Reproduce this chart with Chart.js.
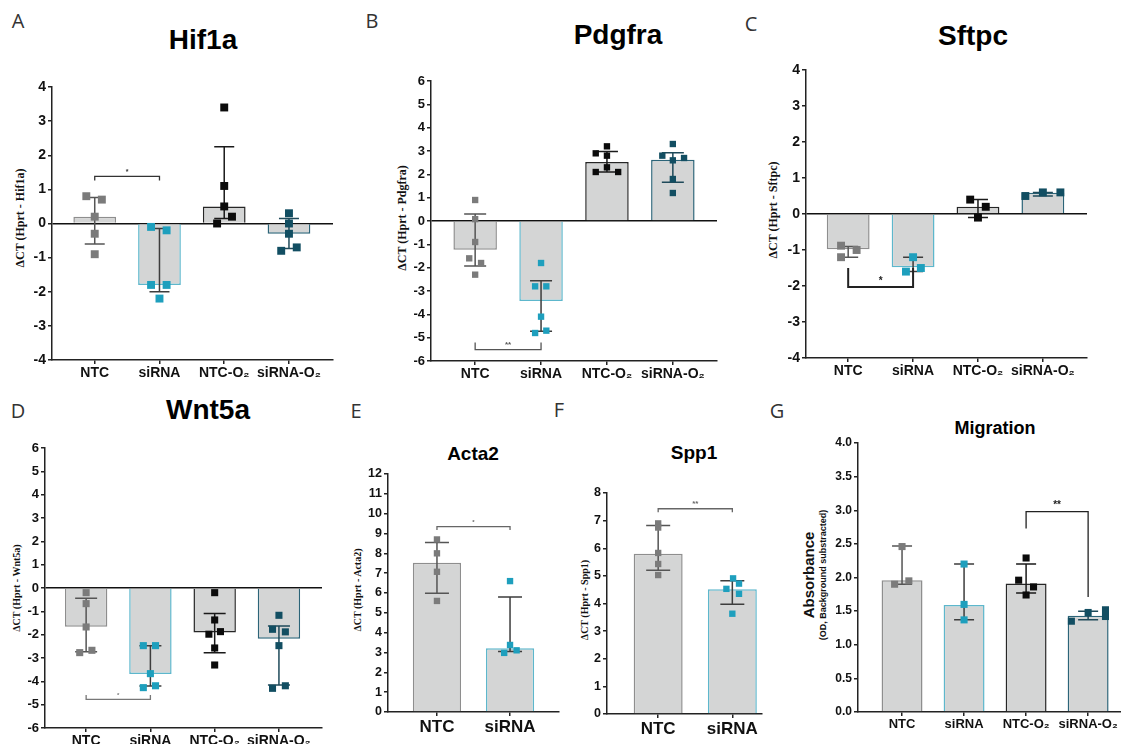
<!DOCTYPE html>
<html>
<head>
<meta charset="utf-8">
<script src="https://cdn.jsdelivr.net/npm/chart.js@4.4.1/dist/chart.umd.min.js"></script>
<style>
  body { margin: 0; width: 1121px; height: 744px; overflow: hidden; position: relative; background: #fff; font-family: "Liberation Sans", Arial, sans-serif; }
  .letter { position: absolute; font: 20px "Open Sans", sans-serif; color: #333; transform: translate(-50%, -50%); }
  .title { position: absolute; font-weight: bold; color: #000; transform: translate(-50%, -50%); white-space: nowrap; }
  .ylab { position: absolute; white-space: nowrap; color: #111; transform: translate(-50%, -50%) rotate(-90deg); }
  .serif { font-family: "Liberation Serif", "Times New Roman", serif; font-weight: bold; }
  canvas { position: absolute; }
</style>
</head>
<body>
<div class="letter" style="left:18px;top:20px">A</div>
<div class="letter" style="left:372px;top:20px">B</div>
<div class="letter" style="left:751px;top:23px">C</div>
<div class="letter" style="left:18px;top:410px">D</div>
<div class="letter" style="left:356px;top:410px">E</div>
<div class="letter" style="left:559px;top:409px">F</div>
<div class="letter" style="left:777px;top:410px">G</div>

<div class="title" style="left:203px;top:40px;font-size:28px">Hif1a</div>
<div class="title" style="left:618px;top:35px;font-size:28px">Pdgfra</div>
<div class="title" style="left:973px;top:36px;font-size:28px">Sftpc</div>
<div class="title" style="left:208px;top:410px;font-size:28px">Wnt5a</div>
<div class="title" style="left:473px;top:454px;font-size:19px">Acta2</div>
<div class="title" style="left:694px;top:453px;font-size:19px">Spp1</div>
<div class="title" style="left:995px;top:428px;font-size:18px">Migration</div>

<div class="ylab serif" style="left:20px;top:218px;font-size:12px">ΔCT (Hprt - Hif1a)</div>
<div class="ylab serif" style="left:402px;top:218px;font-size:12px">ΔCT (Hprt - Pdgfra)</div>
<div class="ylab serif" style="left:773px;top:210px;font-size:12px">ΔCT (Hprt - Sftpc)</div>
<div class="ylab serif" style="left:16px;top:588px;font-size:10px">ΔCT (Hprt - Wnt5a)</div>
<div class="ylab serif" style="left:357px;top:590px;font-size:10px">ΔCT (Hprt - Acta2)</div>
<div class="ylab serif" style="left:584px;top:600px;font-size:10px">ΔCT (Hprt - Spp1)</div>
<div class="ylab" style="left:808px;top:575px;font-size:15px;font-weight:bold">Absorbance</div>
<div class="ylab" style="left:823px;top:575px;font-size:9px;font-weight:bold">(OD, Background substracted)</div>

<script>
const groups4 = ['NTC', 'siRNA', 'NTC-O₂', 'siRNA-O₂'];
const groups2 = ['NTC', 'siRNA'];

// Hif1a
const hif1aBars = [0.2, -1.8, 0.5, -0.3];
const hif1aLow = [-0.6, -2.0, 0.15, -0.73];
const hif1aHigh = [0.76, -0.15, 2.25, 0.15];
const hif1aPts = [[0.8, 0.7, 0.2, -0.3, -0.9], [-0.1, -0.2, -1.8, -1.8, -2.2], [3.4, 1.1, 0.5, 0.2, 0.0], [0.3, 0.0, -0.3, -0.8, -0.7]];
const hif1aJitter = [[-0.13, 0.11, 0, 0, 0], [-0.13, 0.11, -0.13, 0.11, 0], [0, 0, 0, 0.12, -0.11], [0, 0, 0, -0.12, 0.12]];
const hif1aSig = [0, 1, 1.38, 1.26, 1.26, '*'];

// Pdgfra
const pdgfraBars = [-1.23, -3.43, 2.53, 2.63];
const pdgfraLow = [-1.93, -4.73, 2.1, 1.66];
const pdgfraHigh = [0.3, -2.56, 2.98, 2.93];
const pdgfraPts = [[0.9, 0.08, -0.9, -1.6, -1.8, -2.3], [-1.8, -2.8, -2.8, -4.1, -4.8, -4.7], [3.2, 2.9, 2.8, 2.3, 2.1, 2.1], [3.3, 2.8, 2.7, 2.6, 1.8, 1.2]];
const pdgfraJitter = [[0, 0, 0, -0.09, 0.09, 0], [0, -0.09, 0.08, 0, -0.09, 0.08], [0, -0.17, 0, 0, -0.17, 0.17], [0, -0.16, 0.17, 0, 0, 0]];
const pdgfraSig = [0, 1, -5.51, -5.21, -5.21, '**'];

// Sftpc
const sftpcBars = [-0.98, -1.48, 0.2, 0.59];
const sftpcLow = [-1.2, -1.6, -0.1, 0.5];
const sftpcHigh = [-0.9, -1.2, 0.4, 0.6];
const sftpcPts = [[-0.88, -1.0, -1.2], [-1.2, -1.5, -1.6], [0.4, 0.2, -0.1], [0.5, 0.6, 0.6]];
const sftpcJitter = [[-0.11, 0.13, -0.11], [0, 0.12, -0.11], [-0.12, 0.12, 0], [-0.27, 0, 0.27]];
const sftpcSig = [0, 1, -2.03, -1.5, -1.5, '*'];

// Wnt5a
const wnt5aBars = [-1.66, -3.69, -1.91, -2.17];
const wnt5aLow = [-2.73, -4.2, -2.77, -4.16];
const wnt5aHigh = [-0.44, -2.47, -1.09, -1.63];
const wnt5aPts = [[-0.2, -0.67, -1.67, -2.77, -2.67], [-2.47, -2.47, -3.67, -4.27, -4.19], [-0.2, -1.37, -1.98, -1.87, -2.57, -3.3], [-1.17, -1.77, -1.88, -2.47, -4.3, -4.19]];
const wnt5aJitter = [[0, 0, 0, -0.1, 0.09], [-0.11, 0.08, 0, -0.11, 0.08], [0, 0, -0.09, 0.09, 0, 0], [0, -0.1, 0.1, 0, -0.1, 0.1]];
const wnt5aSig = [0, 1, -4.77, -4.59, -4.59, '*'];

// Acta2
const acta2Bars = [7.53, 3.21];
const acta2Low = [5.99, 3.05];
const acta2High = [8.54, 5.8];
const acta2Pts = [[8.7, 8.0, 7.07, 5.6], [6.6, 3.38, 3.11, 2.98]];
const acta2Jitter = [[0, 0, 0, 0], [0, 0, 0.09, -0.08]];
const acta2Sig = [0, 1, 9.35, 9.18, 9.18, '*'];

// Spp1
const spp1Bars = [5.8, 4.52];
const spp1Low = [5.2, 3.97];
const spp1High = [6.82, 4.82];
const spp1Pts = [[6.9, 6.75, 5.83, 5.43, 5.03], [4.91, 4.53, 4.72, 4.35, 3.63]];
const spp1Jitter = [[0, 0, 0, 0, 0], [0.01, -0.08, 0.09, 0.09, 0]];
const spp1Sig = [0, 1, 7.43, 7.3, 7.3, '**'];

// Migration
const migBars = [1.96, 1.59, 1.91, 1.43];
const migLow = [1.9, 1.37, 1.77, 1.37];
const migHigh = [2.47, 2.2, 2.2, 1.5];
const migPts = [[2.46, 1.9, 1.95], [2.2, 1.6, 1.37], [2.29, 1.96, 1.86, 1.74], [1.48, 1.35, 1.52, 1.42]];
const migJitter = [[0, -0.12, 0.11], [0, 0, 0], [0, -0.12, 0.12, 0], [0, -0.27, 0.28, 0.28]];
const migSig = [2, 3, 2.98, 2.73, 1.71, '**'];

// group styles
const dotColors = ['#7b7b7b', '#1e9fbd', '#0b0b0b', '#124e62'];
const edgeColors = ['#8e8e8e', '#5db7cc', '#262626', '#2c6478'];
const errColors = ['#555555', '#3d3d3d', '#1a1a1a', '#1f4a5a'];
const barFill = '#d4d5d5';

const panels = [
  { labels: groups4, bars: hif1aBars, low: hif1aLow, high: hif1aHigh, pts: hif1aPts, jit: hif1aJitter, sig: hif1aSig,
    y: [-4, 4, 1], x: [-0.66, 3.68], area: [52, 87, 333, 360], zero: true,
    yFont: 14, xFont: 14, r: 5.6, cap: 10, sigFont: 7, sigColor: '#333' },
  { labels: groups4, bars: pdgfraBars, low: pdgfraLow, high: pdgfraHigh, pts: pdgfraPts, jit: pdgfraJitter, sig: pdgfraSig,
    y: [-6, 6, 1], x: [-0.67, 3.67], area: [431, 81, 717, 361], zero: true,
    yFont: 13, xFont: 14, r: 4.5, cap: 11, sigFont: 8, sigColor: '#555' },
  { labels: groups4, bars: sftpcBars, low: sftpcLow, high: sftpcHigh, pts: sftpcPts, jit: sftpcJitter, sig: sftpcSig,
    y: [-4, 4, 1], x: [-0.65, 3.68], area: [806, 70, 1087, 358], zero: true,
    yFont: 14, xFont: 14, r: 5.6, cap: 10, sigFont: 10, sigColor: '#222', sigWidth: 2 },
  { labels: groups4, bars: wnt5aBars, low: wnt5aLow, high: wnt5aHigh, pts: wnt5aPts, jit: wnt5aJitter, sig: wnt5aSig,
    y: [-6, 6, 1], x: [-0.64, 3.67], area: [45, 448, 322, 728], zero: true,
    yFont: 13, xFont: 14, r: 5, cap: 11, sigFont: 6, sigColor: '#777' },
  { labels: groups2, bars: acta2Bars, low: acta2Low, high: acta2High, pts: acta2Pts, jit: acta2Jitter, sig: acta2Sig,
    y: [0, 12, 1], x: [-0.67, 1.67], area: [388, 474, 559, 712], zero: false,
    yFont: 12.5, xFont: 17, r: 4.5, cap: 12, sigFont: 6, sigColor: '#666' },
  { labels: groups2, bars: spp1Bars, low: spp1Low, high: spp1High, pts: spp1Pts, jit: spp1Jitter, sig: spp1Sig,
    y: [0, 8, 1], x: [-0.69, 1.4], area: [607, 493, 762, 714], zero: false,
    yFont: 12.5, xFont: 17, r: 4.5, cap: 12, sigFont: 8, sigColor: '#666' },
  { labels: groups4, bars: migBars, low: migLow, high: migHigh, pts: migPts, jit: migJitter, sig: migSig,
    y: [0, 4, 0.5], x: [-0.71, 3.53], area: [858, 443, 1121, 712], zero: false,
    yFont: 12, xFont: 13, r: 5, cap: 10, sigFont: 10, sigColor: '#222', fixed: 1 }
];

function makePanel(p) {
  const [L, T, R, B] = p.area;
  const yw = 40, xh = 40, padTop = 14, padRight = 8;
  const left = L - yw, top = T - padTop;
  const w = R + padRight - left, h = B + xh - top;
  const canvas = document.createElement('canvas');
  canvas.width = w;
  canvas.height = h;
  canvas.style.left = left + 'px';
  canvas.style.top = top + 'px';
  canvas.style.width = w + 'px';
  canvas.style.height = h + 'px';
  document.body.appendChild(canvas);

  const datasets = [{
    type: 'bar',
    data: p.bars.map((v, i) => ({ x: i, y: v })),
    backgroundColor: barFill,
    borderColor: edgeColors.slice(0, p.labels.length),
    borderWidth: 1.5,
    barPercentage: 0.66,
    categoryPercentage: 1,
    order: 2
  }];
  p.pts.forEach((vals, g) => {
    datasets.push({
      type: 'scatter',
      data: vals.map((v, k) => ({ x: g + p.jit[g][k], y: v })),
      backgroundColor: dotColors[g],
      borderWidth: 0,
      pointStyle: 'rect',
      pointRadius: p.r,
      order: 1
    });
  });

  // error bars sit between the bars and the dots
  const errorBars = {
    id: 'errorBars',
    afterDatasetDraw(chart, args) {
      if (args.index !== 0) return;
      const { ctx, scales: { x, y } } = chart;
      ctx.save();
      ctx.lineWidth = 1.5;
      p.bars.forEach((_, i) => {
        const cx = x.getPixelForValue(i);
        const yl = y.getPixelForValue(p.low[i]);
        const yh = y.getPixelForValue(p.high[i]);
        ctx.strokeStyle = errColors[i];
        ctx.beginPath();
        ctx.moveTo(cx, yl); ctx.lineTo(cx, yh);
        ctx.moveTo(cx - p.cap, yl); ctx.lineTo(cx + p.cap, yl);
        ctx.moveTo(cx - p.cap, yh); ctx.lineTo(cx + p.cap, yh);
        ctx.stroke();
      });
      ctx.restore();
    }
  };

  const bracket = {
    id: 'bracket',
    afterDatasetsDraw(chart) {
      const { ctx, scales: { x, y } } = chart;
      const [a, b, level, armA, armB, label] = p.sig;
      const x1 = x.getPixelForValue(a), x2 = x.getPixelForValue(b);
      const yl = y.getPixelForValue(level);
      ctx.save();
      ctx.strokeStyle = p.sigColor;
      ctx.lineWidth = p.sigWidth || 1.3;
      ctx.beginPath();
      ctx.moveTo(x1, y.getPixelForValue(armA));
      ctx.lineTo(x1, yl);
      ctx.lineTo(x2, yl);
      ctx.lineTo(x2, y.getPixelForValue(armB));
      ctx.stroke();
      ctx.fillStyle = p.sigColor;
      ctx.font = 'bold ' + p.sigFont + 'px "Liberation Sans", Arial, sans-serif';
      ctx.textAlign = 'center';
      ctx.textBaseline = 'bottom';
      ctx.fillText(label, (x1 + x2) / 2, yl - 1);
      ctx.restore();
    }
  };

  new Chart(canvas, {
    type: 'bar',
    data: { datasets },
    plugins: [errorBars, bracket],
    options: {
      responsive: false,
      animation: false,
      layout: { padding: { top: padTop, right: padRight, left: 0, bottom: 0 } },
      plugins: { legend: { display: false }, tooltip: { enabled: false } },
      scales: {
        x: {
          type: 'linear',
          min: p.x[0],
          max: p.x[1],
          offset: false,
          afterBuildTicks: s => { s.ticks = p.labels.map((_, i) => ({ value: i })); },
          afterFit: s => { s.height = xh; },
          ticks: {
            callback: (v, i) => p.labels[i],
            autoSkip: false,
            maxRotation: 0,
            padding: 1,
            color: '#111',
            font: { family: '"Liberation Sans", Arial, sans-serif', size: p.xFont, weight: 'bold' }
          },
          grid: { offset: false, drawOnChartArea: false, tickLength: 4, tickColor: '#222', lineWidth: 1.5 },
          border: { color: '#222', width: 1.5 }
        },
        y: {
          min: p.y[0],
          max: p.y[1],
          afterFit: s => { s.width = yw; },
          ticks: {
            stepSize: p.y[2],
            padding: 2,
            color: '#111',
            callback: v => p.fixed ? v.toFixed(p.fixed) : String(v),
            font: { family: '"Liberation Sans", Arial, sans-serif', size: p.yFont, weight: 'bold' }
          },
          grid: {
            drawOnChartArea: p.zero,
            color: c => (c.tick && c.tick.value === 0) ? '#111' : 'rgba(0,0,0,0)',
            lineWidth: 1.5,
            tickLength: 4,
            tickColor: '#222'
          },
          border: { color: '#222', width: 1.5 }
        }
      }
    }
  });
}

panels.forEach(makePanel);
</script>
</body>
</html>
